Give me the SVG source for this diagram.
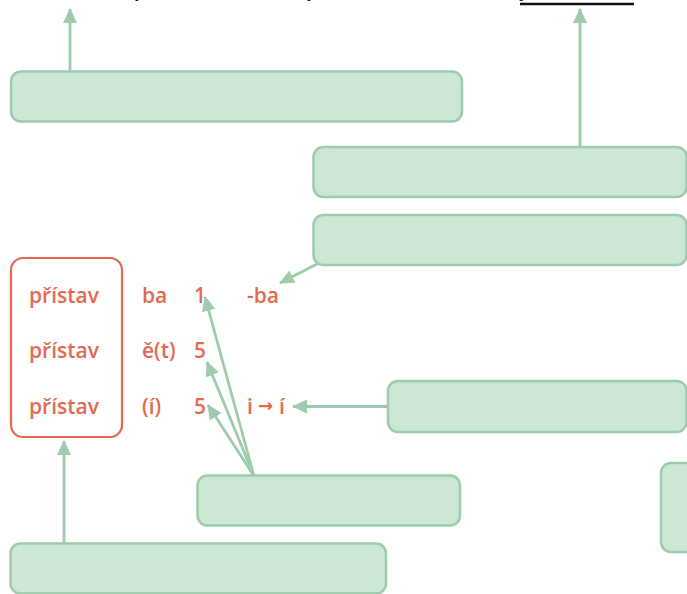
<svg xmlns="http://www.w3.org/2000/svg" width="687" height="594" viewBox="0 0 687 594">
<style>
.box{fill:#cde7d5;stroke:#9ecbab;stroke-width:2.5}
.con{stroke:#9ecbab;stroke-width:2.8;fill:none;marker-end:url(#ah)}
.red{fill:#e36a50;font-family:"Open Sans","Liberation Sans",sans-serif;font-weight:600;font-size:21px}
.arr{fill:#e36a50;font-family:"DejaVu Sans",sans-serif;font-weight:bold;font-size:18px}
.top{fill:#111;font-family:"Liberation Serif",serif;font-size:18px}
</style>
<defs>
<marker id="ah" markerUnits="userSpaceOnUse" markerWidth="15" markerHeight="15" viewBox="0 0 15 15" refX="14" refY="7.5" orient="auto">
<path d="M0,0.5 L15,7.5 L0,14.5 Z" fill="#9ecbab"/>
</marker>
</defs>
<g id="top-text">
<text class="top" x="135" y="-3">y</text>
<text class="top" x="307" y="-3">y</text>
<text class="top" x="519" y="-3">p</text>
<line x1="520" y1="4" x2="634" y2="4" stroke="#111" stroke-width="2.5"/>
</g>
<g id="connectors">
<line class="con" x1="70" y1="71" x2="70" y2="9"/>
<line class="con" x1="580" y1="147" x2="580" y2="9"/>
<line class="con" x1="319" y1="263" x2="280" y2="283"/>
<line class="con" x1="388" y1="406.5" x2="293" y2="406.5"/>
<line class="con" x1="254" y1="476" x2="205" y2="297"/>
<line class="con" x1="254" y1="476" x2="207" y2="362"/>
<line class="con" x1="254" y1="476" x2="208" y2="405"/>
<line class="con" x1="64" y1="543" x2="64" y2="441"/>
</g>
<g id="nodeA"><rect class="box" x="11" y="71.5" width="451" height="50" rx="10"/></g>
<g id="nodeB"><rect class="box" x="313.5" y="147" width="373" height="50" rx="10"/></g>
<g id="nodeC"><rect class="box" x="313.5" y="215" width="373" height="50" rx="10"/></g>
<g id="nodeE"><rect class="box" x="388" y="381" width="298.5" height="51" rx="10"/></g>
<g id="nodeD"><rect class="box" x="197.5" y="475.5" width="262.5" height="50" rx="10"/></g>
<g id="nodeF"><rect class="box" x="661" y="463" width="40" height="89" rx="10"/></g>
<g id="nodeG"><rect class="box" x="10.5" y="543.5" width="375.5" height="50" rx="10"/></g>
<g id="forms">
<rect x="11" y="258" width="111" height="179" rx="12" fill="none" stroke="#e36a50" stroke-width="2.2"/>
<text class="red" x="29" y="303">přístav</text>
<text class="red" x="29" y="358">přístav</text>
<text class="red" x="29" y="414">přístav</text>
<text class="red" x="142" y="303">ba</text>
<text class="red" x="142" y="358">ě(t)</text>
<text class="red" x="142" y="414">(í)</text>
<text class="red" x="194" y="303">1</text>
<text class="red" x="194" y="358">5</text>
<text class="red" x="194" y="414">5</text>
<text class="red" x="247" y="303">-ba</text>
<text class="red" x="247" y="414">i</text>
<text class="arr" x="258" y="412">→</text>
<text class="red" x="279" y="414">í</text>
</g>
</svg>
